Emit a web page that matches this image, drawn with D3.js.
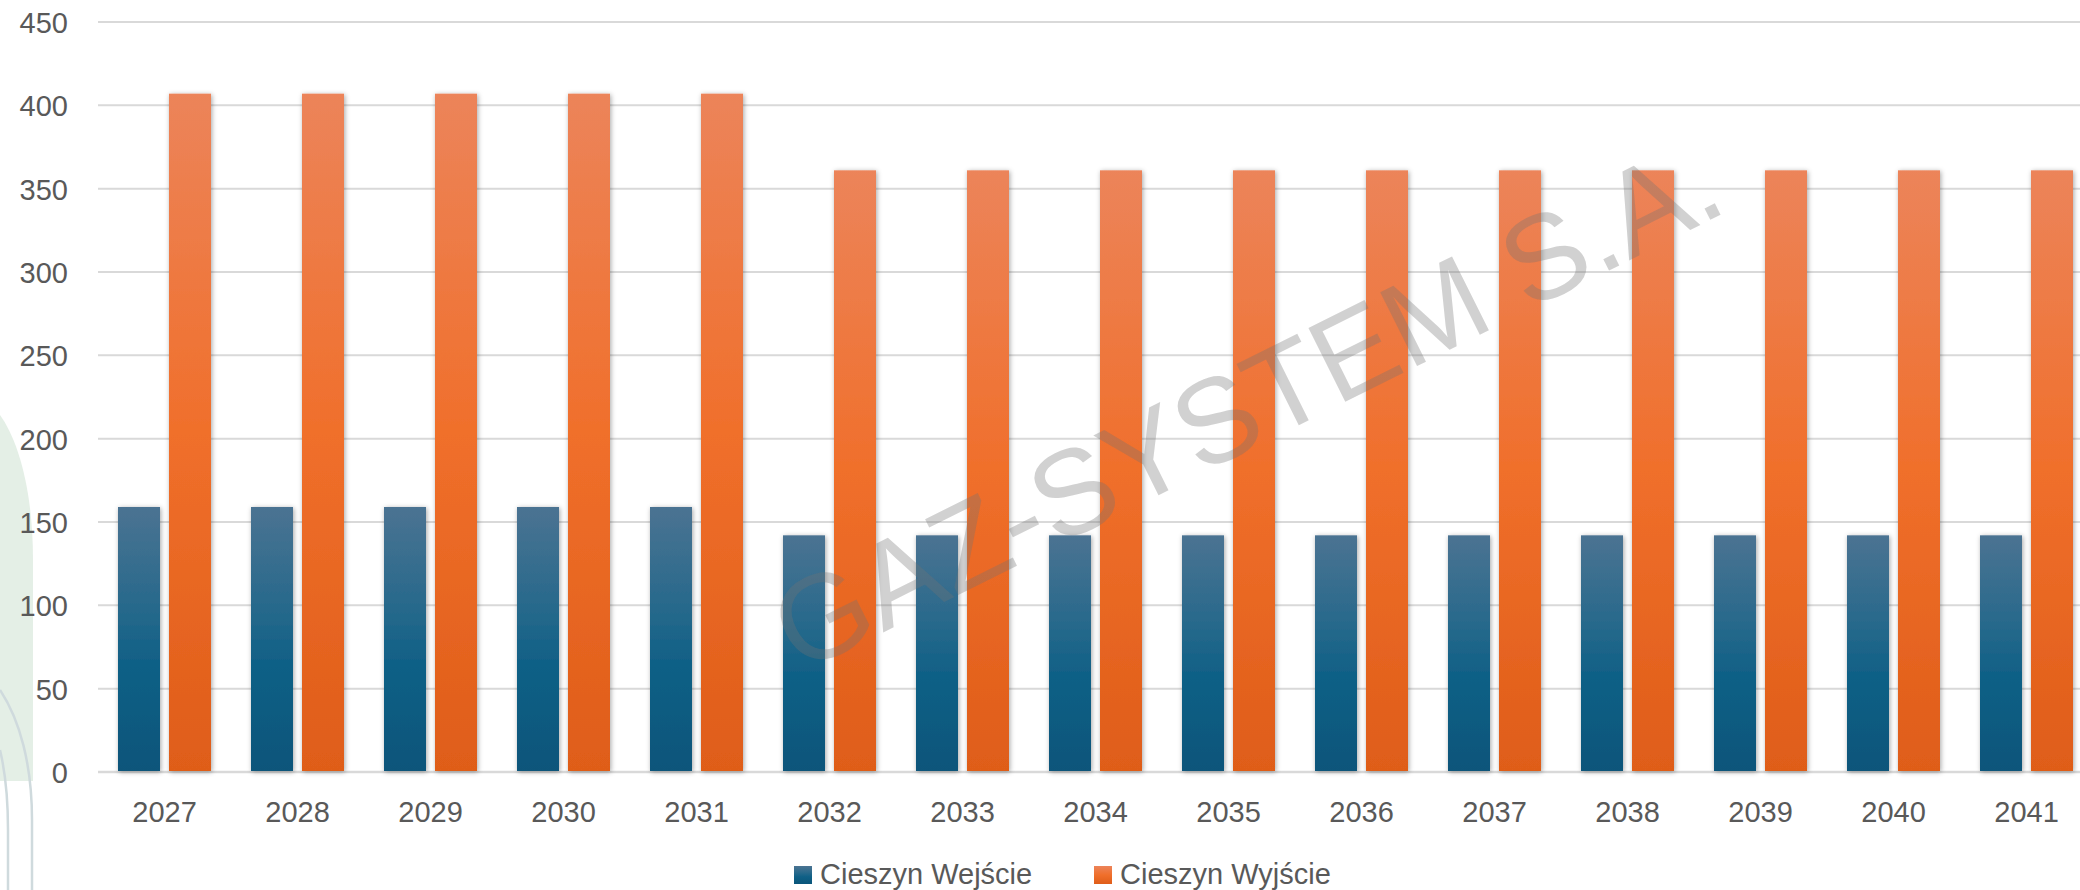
<!DOCTYPE html>
<meta charset="utf-8">
<html>
<head>
  <title>Cieszyn</title>
  <script src="https://cdn.jsdelivr.net/npm/d3@7"></script>
  <style>
    body { margin: 0; background: #fff; }
    svg { display: block; font-family: "Liberation Sans", Arial, sans-serif; }
  </style>
</head>
<body>
<div id="chart"></div>
<script>
  /* data */
  var years = ["2027","2028","2029","2030","2031","2032","2033","2034","2035","2036","2037","2038","2039","2040","2041"];
  var entryValues = [159,159,159,159,159,142,142,142,142,142,142,142,142,142,142];
  var exitValues  = [407,407,407,407,407,361,361,361,361,361,361,361,361,361,361];
  var seriesNames = ["Cieszyn Wejście","Cieszyn Wyjście"];
  var yTicks = [0,50,100,150,200,250,300,350,400,450];

  /* layout */
  var totalWidth = 2080, totalHeight = 890,
      plotLeft = 98, plotRight = 2093,
      plotTop = 22, plotBottom = 772,
      fontSize = 29;

  var svg = d3.select("#chart").append("svg")
      .attr("width", totalWidth)
      .attr("height", totalHeight);

  var defs = svg.append("defs");

  /* bar gradients */
  function addGradient(id, stops) {
    var g = defs.append("linearGradient").attr("id", id)
        .attr("x1", 0).attr("y1", 0).attr("x2", 0).attr("y2", 1);
    g.selectAll("stop").data(stops).enter().append("stop")
        .attr("offset", function(d){ return d[0]; })
        .attr("stop-color", function(d){ return d[1]; });
  }
  addGradient("gradBlue", [[0, "#4b7392"], [0.35, "#2a6a8c"], [0.6, "#0f6086"], [1, "#0a557a"]]);
  addGradient("gradOrange", [[0, "#ec845a"], [0.5, "#f06f2b"], [1, "#df5d19"]]);

  var shadow = defs.append("filter").attr("id", "shadow")
      .attr("x", "-30%").attr("y", "-10%").attr("width", "160%").attr("height", "120%");
  shadow.append("feDropShadow")
      .attr("dx", 1).attr("dy", 1).attr("stdDeviation", 2.5)
      .attr("flood-color", "#000").attr("flood-opacity", 0.35);

  svg.append("rect").attr("width", totalWidth).attr("height", totalHeight).attr("fill", "#fff");

  /* background decoration on the left edge */
  svg.append("path")
      .attr("d", "M0,415 C18,440 33,490 33,560 L33,781 L0,781 Z")
      .attr("fill", "#e4efe6");
  svg.append("path")
      .attr("d", "M0,690 C20,720 32,765 32,820 L32,890")
      .attr("fill", "none").attr("stroke", "#cfdadd").attr("stroke-width", 2.5);
  svg.append("path")
      .attr("d", "M0,750 C6,775 8,800 8,830 L8,890")
      .attr("fill", "none").attr("stroke", "#cfdadd").attr("stroke-width", 2.5);

  /* scales */
  var x = d3.scaleBand()
      .domain(years)
      .range([plotLeft, plotRight])
      .paddingInner(40 / 133)
      .paddingOuter(20 / 133);

  var xSeries = d3.scaleBand()
      .domain(seriesNames)
      .range([0, x.bandwidth()])
      .paddingInner(9 / 51);

  var y = d3.scaleLinear()
      .domain([0, 450])
      .range([plotBottom, plotTop]);

  /* gridlines */
  svg.append("g").selectAll("line")
      .data(yTicks)
      .enter().append("line")
      .attr("x1", plotLeft).attr("x2", totalWidth)
      .attr("y1", function(d){ return y(d); })
      .attr("y2", function(d){ return y(d); })
      .attr("stroke", "#d9d9d9")
      .attr("stroke-width", function(d){ return d === 0 ? 2.5 : 2; });

  /* y axis labels */
  var yAxis = d3.axisLeft(y).tickValues(yTicks).tickSize(0).tickPadding(0);
  var yG = svg.append("g")
      .attr("transform", "translate(68,0)")
      .call(yAxis);
  yG.select(".domain").remove();
  yG.selectAll("text")
      .attr("font-size", fontSize)
      .attr("font-family", "Liberation Sans, Arial, sans-serif")
      .attr("fill", "#595959")
      .attr("dy", "0.36em");

  /* x axis labels */
  var xAxis = d3.axisBottom(x).tickSize(0).tickPadding(0);
  var xG = svg.append("g")
      .attr("transform", "translate(0,822)")
      .call(xAxis);
  xG.select(".domain").remove();
  xG.selectAll("text")
      .attr("font-size", fontSize)
      .attr("font-family", "Liberation Sans, Arial, sans-serif")
      .attr("fill", "#595959")
      .attr("dy", 0)
      .attr("y", 0);

  /* bars */
  var rows = years.map(function(yr, i){
    return { year: yr, values: [
      { name: seriesNames[0], value: entryValues[i], fill: "url(#gradBlue)" },
      { name: seriesNames[1], value: exitValues[i], fill: "url(#gradOrange)" }
    ]};
  });

  var groups = svg.append("g").selectAll("g")
      .data(rows)
      .enter().append("g")
      .attr("transform", function(d){ return "translate(" + x(d.year) + ",0)"; });

  groups.selectAll("rect")
      .data(function(d){ return d.values; })
      .enter().append("rect")
      .attr("x", function(d){ return xSeries(d.name); })
      .attr("y", function(d){ return y(d.value); })
      .attr("width", xSeries.bandwidth())
      .attr("height", function(d){ return y(0) - y(d.value) - 1; })
      .attr("fill", function(d){ return d.fill; })
      .attr("filter", "url(#shadow)");

  /* watermark */
  svg.append("text")
      .attr("transform", "translate(1265,442) rotate(-26.5)")
      .attr("text-anchor", "middle")
      .attr("font-size", 120)
      .attr("font-family", "Liberation Sans, Arial, sans-serif")
      .attr("fill", "rgba(115,115,115,0.33)")
      .text("GAZ-SYSTEM S.A.");

  /* legend */
  var legendX = [794, 1094];
  var legend = svg.append("g").selectAll("g")
      .data(seriesNames)
      .enter().append("g")
      .attr("transform", function(d, i){ return "translate(" + legendX[i] + ",866)"; });
  legend.append("rect")
      .attr("width", 18).attr("height", 18)
      .attr("fill", function(d, i){ return i === 0 ? "url(#gradBlue)" : "url(#gradOrange)"; });
  legend.append("text")
      .attr("x", 26).attr("y", 18)
      .attr("font-size", fontSize)
      .attr("fill", "#595959")
      .text(function(d){ return d; });
</script>
</body>
</html>
